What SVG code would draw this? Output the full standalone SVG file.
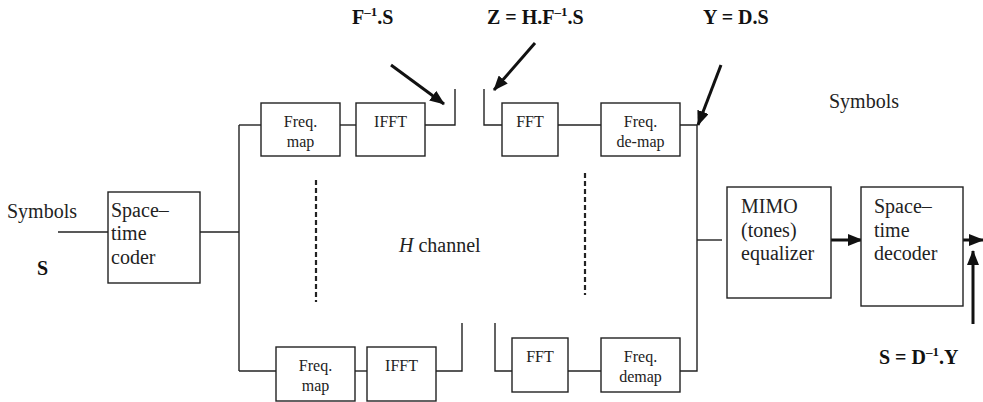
<svg xmlns="http://www.w3.org/2000/svg" width="983" height="402" viewBox="0 0 983 402">
<style>
.box{fill:#fff;stroke:#222;stroke-width:1.4}
.ln{fill:none;stroke:#222;stroke-width:1.4}
.dash{fill:none;stroke:#222;stroke-width:2.2;stroke-dasharray:5 3}
.arr{fill:none;stroke:#111;stroke-width:3;marker-end:url(#ah)}
.t{font-family:"Liberation Serif","Times New Roman",serif;font-size:20px;fill:#222}
.s{font-family:"Liberation Serif","Times New Roman",serif;font-size:16px;fill:#222;text-anchor:middle}
.b{font-family:"Liberation Serif","Times New Roman",serif;font-size:20px;font-weight:bold;fill:#111}
</style>
<defs>
<marker id="ah" markerUnits="userSpaceOnUse" markerWidth="16" markerHeight="12" refX="14" refY="6" orient="auto">
<path d="M0,0 L15,6 L0,12 Z" fill="#111"/>
</marker>
</defs>
<rect width="983" height="402" fill="#fff"/>
<g id="connectors">
<path class="ln" d="M58,232 H108"/>
<path class="ln" d="M200,232 H239"/>
<path class="ln" d="M239,125 V371"/>
<path class="ln" d="M239,125 H261"/>
<path class="ln" d="M340,125 H356"/>
<path class="ln" d="M425,125 H455 V89"/>
<path class="ln" d="M239,371 H276"/>
<path class="ln" d="M355,371 H367"/>
<path class="ln" d="M436,371 H462 V323"/>
<path class="ln" d="M484,89 V125 H502"/>
<path class="ln" d="M558,125 H601"/>
<path class="ln" d="M680,125 H697 V371 H680"/>
<path class="ln" d="M495,323 V371 H512"/>
<path class="ln" d="M568,371 H601"/>
<path class="ln" d="M697,240 H722"/>
<path class="dash" d="M316,180 V302"/>
<path class="dash" d="M585,173 V295"/>
<path class="arr" d="M391,65 L444,104"/>
<path class="arr" d="M535,43 L494,90"/>
<path class="arr" d="M721,65 L698,125"/>
<path class="arr" d="M831,240 H862"/>
<path class="arr" d="M963,240 H983"/>
<path class="arr" d="M973,324 V251"/>
</g>
<g id="coder"><rect class="box" x="108" y="192" width="92" height="91"/>
<text class="t" x="111" y="217">Space–</text><text class="t" x="111" y="240">time</text><text class="t" x="111" y="264">coder</text></g>
<g id="freqmap1"><rect class="box" x="261" y="103" width="79" height="53"/>
<text class="s" x="300.5" y="127">Freq.</text><text class="s" x="300.5" y="147">map</text></g>
<g id="ifft1"><rect class="box" x="356" y="103" width="69" height="53"/>
<text class="s" x="390.5" y="127">IFFT</text></g>
<g id="fft1"><rect class="box" x="502" y="103" width="56" height="53"/>
<text class="s" x="530" y="127">FFT</text></g>
<g id="demap1"><rect class="box" x="601" y="103" width="79" height="53"/>
<text class="s" x="640.5" y="127">Freq.</text><text class="s" x="640.5" y="147">de-map</text></g>
<g id="freqmap2"><rect class="box" x="276" y="347" width="79" height="54"/>
<text class="s" x="315.5" y="371">Freq.</text><text class="s" x="315.5" y="391">map</text></g>
<g id="ifft2"><rect class="box" x="367" y="347" width="69" height="54"/>
<text class="s" x="401.5" y="371">IFFT</text></g>
<g id="fft2"><rect class="box" x="512" y="338" width="56" height="54"/>
<text class="s" x="540" y="362">FFT</text></g>
<g id="demap2"><rect class="box" x="601" y="338" width="79" height="54"/>
<text class="s" x="640.5" y="362">Freq.</text><text class="s" x="640.5" y="382">demap</text></g>
<g id="mimo"><rect class="box" x="727" y="187" width="104" height="111"/>
<text class="t" x="741" y="213">MIMO</text><text class="t" x="741" y="237">(tones)</text><text class="t" x="741" y="260">equalizer</text></g>
<g id="decoder"><rect class="box" x="861" y="187" width="102" height="119"/>
<text class="t" x="874" y="213">Space–</text><text class="t" x="874" y="237">time</text><text class="t" x="874" y="260">decoder</text></g>
<g id="labels">
<text class="t" x="7" y="218">Symbols</text>
<text class="b" x="37" y="275">S</text>
<text class="t" x="829" y="108">Symbols</text>
<text class="t" x="399" y="252"><tspan font-style="italic">H</tspan> channel</text>
<text class="b" x="352" y="24">F<tspan dy="-8" font-size="13">–1</tspan><tspan dy="8">.S</tspan></text>
<text class="b" x="487" y="24">Z = H.F<tspan dy="-8" font-size="13">–1</tspan><tspan dy="8">.S</tspan></text>
<text class="b" x="703" y="24">Y = D.S</text>
<text class="b" x="879" y="364">S = D<tspan dy="-8" font-size="13">–1</tspan><tspan dy="8">.Y</tspan></text>
</g>
</svg>
